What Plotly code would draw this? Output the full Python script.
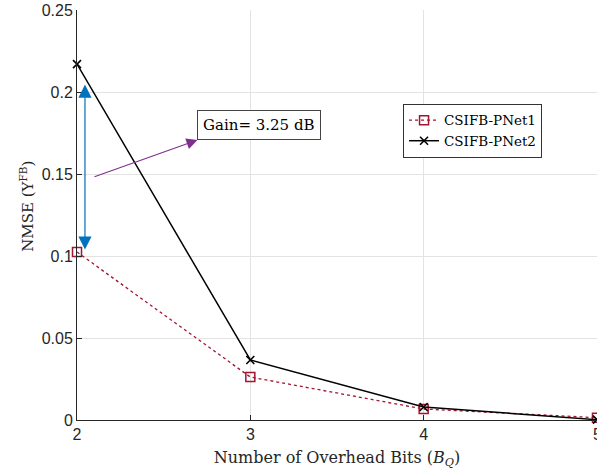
import plotly.graph_objects as go

# Feedback overhead bits and the NMSE reached by each network
bits = [2, 3, 4, 5]
nmse_pnet1 = [0.1024, 0.0262, 0.0067, 0.0014]
nmse_pnet2 = [0.2170, 0.0366, 0.0079, 0.0002]
y_ticks = [0, 0.05, 0.1, 0.15, 0.2, 0.25]
y_tick_text = ["0", "0.05", "0.1", "0.15", "0.2", "0.25"]
x_ticks = [2, 3, 4, 5]

SERIF = "DejaVu Serif, Liberation Serif, serif"
SANS = "Liberation Sans, Arial, sans-serif"
AXIS_GRAY = "#262626"

fig = go.Figure()
fig.add_trace(go.Scatter(
    x=bits, y=nmse_pnet1, name="CSIFB-PNet1", mode="lines+markers",
    line=dict(color="#A2142F", width=1.3, dash="dot"),
    marker=dict(symbol="square-open", size=9, color="#A2142F", line=dict(width=1.5)),
    cliponaxis=False,
))
fig.add_trace(go.Scatter(
    x=bits, y=nmse_pnet2, name="CSIFB-PNet2", mode="lines+markers",
    line=dict(color="black", width=1.5),
    marker=dict(symbol="x-thin", size=8, color="black", line=dict(width=1.6, color="black")),
    cliponaxis=False,
))

gain_db = 3.25

annotations = [
    # vertical double-headed arrow spanning the gap between the two curves at B_Q = 2
    dict(x=2.046, y=0.2045, ax=2.046, ay=0.1030, xref="x", yref="y", axref="x", ayref="y",
         text="", showarrow=True, arrowhead=2, startarrowhead=2, arrowside="end+start",
         arrowsize=2.2, startarrowsize=2.2, arrowwidth=1.2, arrowcolor="#0072BD"),
    # pointer to the gain label
    dict(x=2.695, y=0.1707, ax=2.092, ay=0.148, xref="x", yref="y", axref="x", ayref="y",
         text="", showarrow=True, arrowhead=2, arrowsize=2.0, arrowwidth=1.1, arrowcolor="#7E2F8E"),
    # gain label box
    dict(x=2.695, y=0.1707, xref="x", yref="y", xanchor="left", yanchor="bottom",
         text=f"Gain= {gain_db:.2f} dB", showarrow=False,
         font=dict(family=SERIF, size=15, color="black"),
         bordercolor="#444444", borderwidth=1, borderpad=5, bgcolor="white"),
    # last x tick label, sitting on the right edge of the figure
    dict(x=5, y=0, xref="x", yref="y", xanchor="center", yanchor="top", yshift=-4,
         text="5", showarrow=False, font=dict(family=SANS, size=16, color=AXIS_GRAY)),
    # y axis title, offset in pixels from the plot's left edge
    dict(x=0, xshift=27 - 77, y=0.52, xref="paper", yref="paper",
         xanchor="center", yanchor="middle",
         text="NMSE (\u03a5<sup>FB</sup>)", textangle=-90, showarrow=False,
         font=dict(family=SERIF, size=15, color=AXIS_GRAY)),
]

fig.update_layout(
    width=597, height=473,
    margin=dict(l=77, r=0, t=10, b=53),
    paper_bgcolor="white", plot_bgcolor="white",
    showlegend=True,
    legend=dict(
        x=0.627, y=0.771, xanchor="left", yanchor="top",
        bgcolor="white", bordercolor="#333333", borderwidth=1,
        font=dict(family=SERIF, size=13.5, color="black"),
        tracegroupgap=0,
    ),
    annotations=annotations,
    xaxis=dict(
        range=[2, 5], tickvals=x_ticks, ticktext=[str(v) for v in x_ticks],
        showgrid=True, gridcolor="#e3e3e3", gridwidth=1,
        showline=True, linecolor=AXIS_GRAY, linewidth=1,
        ticks="inside", ticklen=5, tickcolor=AXIS_GRAY,
        tickfont=dict(family=SANS, size=16, color=AXIS_GRAY),
        zeroline=False,
        title=dict(text="Number of Overhead Bits (<i>B</i><sub><i>Q</i></sub>)",
                   font=dict(family=SERIF, size=16, color=AXIS_GRAY), standoff=9),
    ),
    yaxis=dict(
        range=[0, 0.25], tickvals=y_ticks, ticktext=y_tick_text,
        showgrid=True, gridcolor="#e3e3e3", gridwidth=1,
        showline=True, linecolor=AXIS_GRAY, linewidth=1,
        ticks="inside", ticklen=5, tickcolor=AXIS_GRAY,
        tickfont=dict(family=SANS, size=16, color=AXIS_GRAY),
        zeroline=False,
    ),
)

fig.write_html("out.html")
